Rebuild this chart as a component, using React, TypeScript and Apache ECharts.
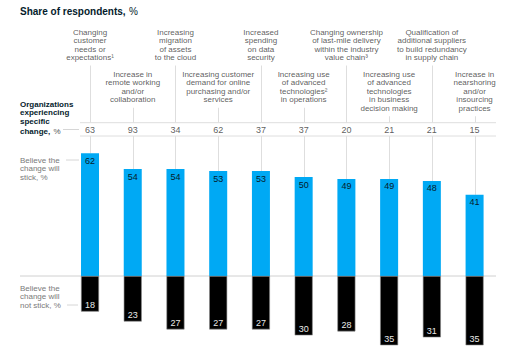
import React, { useEffect, useRef } from "react";
import * as echarts from "echarts";

const categories = [
  "Changing\ncustomer\nneeds or\nexpectations¹",
  "Increase in\nremote working\nand/or\ncollaboration",
  "Increasing\nmigration\nof assets\nto the cloud",
  "Increasing customer\ndemand for online\npurchasing and/or\nservices",
  "Increased\nspending\non data\nsecurity",
  "Increasing use\nof advanced\ntechnologies²\nin operations",
  "Changing ownership\nof last-mile delivery\nwithin the industry\nvalue chain³",
  "Increasing use\nof advanced\ntechnologies\nin business\ndecision making",
  "Qualification of\nadditional suppliers\nto build redundancy\nin supply chain",
  "Increase in\nnearshoring\nand/or\ninsourcing\npractices",
];
const experiencing = [63, 93, 34, 62, 37, 37, 20, 21, 21, 15];
const stick = [62, 54, 54, 53, 53, 50, 49, 49, 48, 41];
const notStick = [18, 23, 27, 27, 27, 30, 28, 35, 31, 35];

const FONT = "'Liberation Sans', Arial, 'DejaVu Sans', sans-serif";
const Y_MIN = -40;
const Y_MAX = 138;
const PX_PER_UNIT = 1.98;
const BASE_Y = 276;
const LINE_H = 8.5;
const ROW_TOP_PX = 122.7;
const ROW_BOTTOM_PX = 136;
const UPPER_LABEL_BOTTOM_PX = 62;
const LOWER_LABEL_TOP_PX = 69.75;

const pxToVal = (px: number) => (BASE_Y - px) / PX_PER_UNIT;

export default function App() {
  const ref = useRef<HTMLDivElement>(null);

  useEffect(() => {
    if (!ref.current) return;
    const chart = echarts.init(ref.current, null, { renderer: "svg" });
    const gridTop = BASE_Y - Y_MAX * PX_PER_UNIT;
    const gridHeight = (Y_MAX - Y_MIN) * PX_PER_UNIT;
    const gridLeft = 68.65;
    const gridWidth = 427.3;

    const option: any = {
      animation: false,
      backgroundColor: "#ffffff",
      textStyle: { fontFamily: FONT },
      grid: {
        left: gridLeft,
        top: gridTop,
        width: gridWidth,
        height: gridHeight,
        containLabel: false,
      },
      xAxis: {
        type: "category",
        data: categories.map((_, i) => String(i)),
        show: false,
      },
      yAxis: { type: "value", min: Y_MIN, max: Y_MAX, show: false },
      graphic: [
        {
          type: "text",
          left: 20,
          top: 5,
          style: {
            text: "{b|Share of respondents,} {r|%}",
            rich: {
              b: { fontSize: 10, fontWeight: "bold", fill: "#051c2c", fontFamily: FONT },
              r: { fontSize: 10, fill: "#051c2c", fontFamily: FONT },
            },
          },
        },
        {
          type: "text",
          left: 20,
          top: 100,
          style: {
            text: "{b|Organizations}\n{b|experiencing}\n{b|specific}\n{b|change,} {r|%}",
            rich: {
              b: { fontSize: 8, fontWeight: "bold", fill: "#051c2c", lineHeight: LINE_H, fontFamily: FONT },
              r: { fontSize: 8, fill: "#555", lineHeight: LINE_H, fontFamily: FONT },
            },
          },
        },
        {
          type: "text",
          left: 20,
          top: 155.75,
          style: {
            text: "Believe the\nchange will\nstick, %",
            fontSize: 8,
            lineHeight: LINE_H,
            fill: "#7a7a7a",
            fontFamily: FONT,
          },
        },
        {
          type: "text",
          left: 20,
          top: 284,
          style: {
            text: "Believe the\nchange will\nnot stick, %",
            fontSize: 8,
            lineHeight: LINE_H,
            fill: "#7a7a7a",
            fontFamily: FONT,
          },
        },
        { type: "line", shape: { x1: 63, y1: 129.5, x2: 79, y2: 129.5 }, style: { stroke: "#d6d6d6", lineWidth: 1 } },
        { type: "line", shape: { x1: 66, y1: 160, x2: 79, y2: 160 }, style: { stroke: "#d6d6d6", lineWidth: 1 } },
        { type: "line", shape: { x1: 67, y1: 305, x2: 78, y2: 305 }, style: { stroke: "#d6d6d6", lineWidth: 1 } },
        { type: "line", shape: { x1: 80, y1: ROW_TOP_PX, x2: 496, y2: ROW_TOP_PX }, style: { stroke: "#dedede", lineWidth: 1 } },
        { type: "line", shape: { x1: 80, y1: ROW_BOTTOM_PX, x2: 496, y2: ROW_BOTTOM_PX }, style: { stroke: "#dedede", lineWidth: 1 } },
        { type: "line", z: 0, shape: { x1: 20, y1: BASE_Y, x2: 496, y2: BASE_Y }, style: { stroke: "#d0d0d0", lineWidth: 1 } },
      ],
      series: [
        {
          type: "custom",
          z: 1,
          silent: true,
          data: stick.map((v, i) => [i, v]),
          renderItem: (params: any, api: any) => {
            const i = api.value(0);
            const top = api.value(1);
            const x = Math.round(api.coord([i, 0])[0]) + 0.5;
            const yBar = api.coord([i, top])[1];
            const nLines = categories[i].split("\n").length;
            const yStart =
              i % 2 === 0
                ? UPPER_LABEL_BOTTOM_PX + 3.5
                : LOWER_LABEL_TOP_PX + nLines * LINE_H + 4;
            const style = { stroke: "#dedede", lineWidth: 1 };
            return {
              type: "group",
              children: [
                { type: "line", shape: { x1: x, y1: yStart, x2: x, y2: ROW_TOP_PX }, style },
                { type: "line", shape: { x1: x, y1: ROW_BOTTOM_PX, x2: x, y2: yBar }, style },
              ],
            };
          },
        },
        {
          name: "Believe the change will stick",
          type: "bar",
          stack: "total",
          barWidth: 18,
          z: 3,
          data: stick,
          itemStyle: { color: "#00a9f4" },
          label: {
            show: true,
            position: "insideTop",
            distance: 3,
            fontSize: 9,
            color: "#051c2c",
            fontFamily: FONT,
          },
        },
        {
          name: "Believe the change will not stick",
          type: "bar",
          stack: "total",
          barWidth: 18,
          z: 3,
          data: notStick.map((v) => -v),
          itemStyle: { color: "#000000", borderColor: "#8a8a8a", borderWidth: 0.6 },
          label: {
            show: true,
            position: "insideBottom",
            distance: 2,
            fontSize: 9,
            color: "#e8e8e8",
            fontFamily: FONT,
            formatter: (p: any) => String(Math.abs(p.value)),
          },
        },
        {
          type: "scatter",
          symbolSize: 0,
          silent: true,
          data: experiencing.map((v, i) => [i, pxToVal(130.3), v]),
          label: {
            show: true,
            position: "inside",
            fontSize: 9,
            color: "#333333",
            fontFamily: FONT,
            formatter: (p: any) => String(p.value[2]),
          },
        },
        {
          type: "scatter",
          symbolSize: 0,
          silent: true,
          data: categories.map((c, i) => ({
            value: [i, i % 2 === 0 ? pxToVal(UPPER_LABEL_BOTTOM_PX) : pxToVal(LOWER_LABEL_TOP_PX)],
            label: { position: i % 2 === 0 ? "top" : "bottom" },
          })),
          label: {
            show: true,
            distance: 0,
            fontSize: 8,
            lineHeight: LINE_H,
            align: "center",
            color: "#333333",
            fontFamily: FONT,
            formatter: (p: any) => categories[p.dataIndex],
          },
        },
      ],
    };

    chart.setOption(option);
    return () => chart.dispose();
  }, []);

  return (
    <div
      ref={ref}
      style={{ position: "fixed", left: 0, top: 0, width: 512, height: 356 }}
    />
  );
}
